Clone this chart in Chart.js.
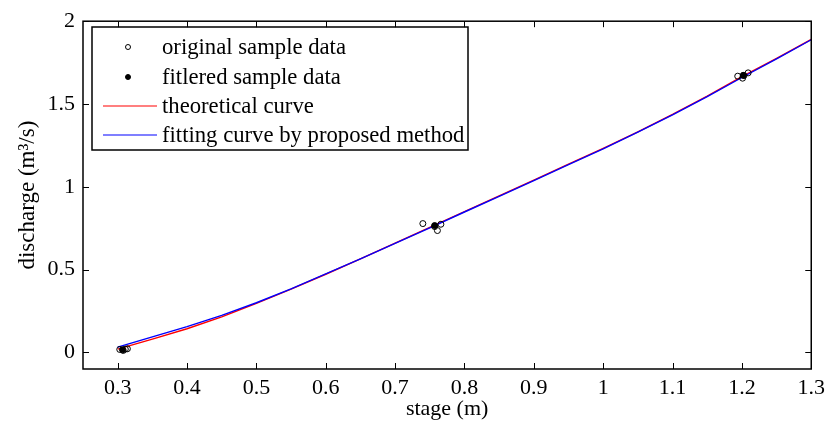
<!DOCTYPE html>
<html>
<head>
<meta charset="utf-8">
<script src="https://cdn.jsdelivr.net/npm/chart.js@4"></script>
<style>
  html, body { margin: 0; padding: 0; background: #fff; }
  canvas { display: block; }
  .warm { position: absolute; left: -1000px; top: 0; font: 22px "Liberation Serif", serif; }
</style>
</head>
<body>
<span class="warm">stage 0.3</span>
<canvas id="rating" width="831" height="428"></canvas>
<script>
// stage (m) -> discharge (m3/s)
const stage = [0.30, 0.35, 0.40, 0.45, 0.50, 0.55, 0.60, 0.65, 0.70, 0.75, 0.80,
               0.85, 0.90, 0.95, 1.00, 1.05, 1.10, 1.15, 1.20, 1.25, 1.30];
const theoretical = [0.020, 0.080, 0.143, 0.215, 0.296, 0.382, 0.472, 0.565, 0.660, 0.755, 0.850,
                     0.945, 1.040, 1.137, 1.232, 1.332, 1.437, 1.548, 1.665, 1.776, 1.890];
const fitted = [0.032, 0.094, 0.156, 0.224, 0.300, 0.384, 0.474, 0.565, 0.658, 0.752, 0.848,
                0.942, 1.038, 1.134, 1.229, 1.330, 1.434, 1.544, 1.660, 1.772, 1.888];

// raw measurements (open circles)
const origX = [0.303, 0.308, 0.314, 0.311, 0.740, 0.761, 0.766, 0.757, 1.194, 1.201, 1.209, 1.203];
const origY = [0.018, 0.012, 0.022, 0.020, 0.778, 0.736, 0.774, 0.760, 1.668, 1.656, 1.688, 1.672];
// filtered (filled dots)
const filtX = [0.307, 0.757, 1.202];
const filtY = [0.016, 0.766, 1.673];

const xTicks = [0.3, 0.4, 0.5, 0.6, 0.7, 0.8, 0.9, 1, 1.1, 1.2, 1.3];
const yTicks = [0, 0.5, 1, 1.5, 2];

const FONT = '"Liberation Serif", serif';

const pts = (xs, ys) => xs.map((x, i) => ({ x, y: ys[i] }));

// рамка вокруг графика + засечки внутрь со всех сторон
const boxPlugin = {
  id: 'matlabBox',
  afterDraw(chart) {
    const { ctx, chartArea: a, scales } = chart;
    const len = 6;
    ctx.save();
    ctx.strokeStyle = '#000';
    ctx.lineWidth = 1.5;
    ctx.strokeRect(a.left, a.top, a.right - a.left, a.bottom - a.top);
    ctx.lineWidth = 1;
    ctx.beginPath();
    xTicks.forEach(v => {
      const x = Math.round(scales.x.getPixelForValue(v)) + 0.5;
      ctx.moveTo(x, a.bottom); ctx.lineTo(x, a.bottom - len);
      ctx.moveTo(x, a.top); ctx.lineTo(x, a.top + len);
    });
    yTicks.forEach(v => {
      const y = Math.round(scales.y.getPixelForValue(v)) + 0.5;
      ctx.moveTo(a.left, y); ctx.lineTo(a.left + len, y);
      ctx.moveTo(a.right, y); ctx.lineTo(a.right - len, y);
    });
    ctx.stroke();
    ctx.restore();
  },
};

// легенда в рамке, в левом верхнем углу
const legendBox = {
  id: 'legendBox',
  afterDatasetsDraw(chart) {
    const { ctx } = chart;
    const bx = 92, by = 27, bw = 376, bh = 123;
    const rows = [47, 77, 106, 135];
    ctx.save();
    ctx.fillStyle = '#fff';
    ctx.fillRect(bx, by, bw, bh);
    ctx.strokeStyle = '#000';
    ctx.lineWidth = 1.5;
    ctx.strokeRect(bx, by, bw, bh);
    ctx.font = '22.7px ' + FONT;
    ctx.textBaseline = 'middle';
    ctx.textAlign = 'left';
    chart.data.datasets.forEach((ds, i) => {
      const y = rows[i];
      if (ds.type === 'scatter') {
        ctx.beginPath();
        ctx.arc(128, y, 2.5, 0, Math.PI * 2);
        ctx.lineWidth = 1;
        ctx.strokeStyle = '#000';
        ctx.fillStyle = ds.pointBackgroundColor;
        ctx.fill();
        ctx.stroke();
      } else {
        ctx.beginPath();
        ctx.moveTo(103, y); ctx.lineTo(157, y);
        ctx.lineWidth = 1.2;
        ctx.strokeStyle = ds.borderColor;
        ctx.stroke();
      }
      ctx.fillStyle = '#000';
      ctx.fillText(ds.label, 162, y + 1);
    });
    ctx.restore();
  },
};

function draw() {
  new Chart(document.getElementById('rating').getContext('2d'), {
    data: {
      datasets: [
        {
          type: 'scatter', label: 'original sample data',
          data: pts(origX, origY),
          pointRadius: 3, pointBorderWidth: 1,
          pointBorderColor: '#000', pointBackgroundColor: 'rgba(0,0,0,0)',
          order: 1,
        },
        {
          type: 'scatter', label: 'fitlered sample data',
          data: pts(filtX, filtY),
          pointRadius: 3, pointBorderWidth: 1,
          pointBorderColor: '#000', pointBackgroundColor: '#000',
          order: 0,
        },
        {
          type: 'line', label: 'theoretical curve',
          data: pts(stage, theoretical),
          borderColor: '#ff0000', borderWidth: 1.4, pointRadius: 0, tension: 0,
          order: 3,
        },
        {
          type: 'line', label: 'fitting curve by proposed method',
          data: pts(stage, fitted),
          borderColor: '#0000ff', borderWidth: 1.4, pointRadius: 0, tension: 0,
          order: 2,
        },
      ],
    },
    options: {
      responsive: false,
      animation: false,
      layout: { padding: { top: 17, right: 15, left: 0, bottom: 0 } },
      plugins: {
        legend: { display: false },
        tooltip: { enabled: false },
      },
      scales: {
        x: {
          type: 'linear', min: 0.25, max: 1.3,
          grid: { display: false, drawTicks: false },
          border: { display: false },
          afterBuildTicks: s => { s.ticks = xTicks.map(v => ({ value: v })); },
          afterFit: s => { s.height = 59; },
          ticks: {
            color: '#000', padding: 6, maxRotation: 0, autoSkip: false,
            font: { family: FONT, size: 22 },
            callback: v => String(v),
          },
          title: {
            display: true, text: 'stage (m)', color: '#000',
            font: { family: FONT, size: 22 },
            padding: { top: 0, bottom: 6 },
          },
        },
        y: {
          type: 'linear', min: -0.1, max: 2,
          grid: { display: false, drawTicks: false },
          border: { display: false },
          afterBuildTicks: s => { s.ticks = yTicks.map(v => ({ value: v })); },
          afterFit: s => { s.width = 83; },
          ticks: {
            color: '#000', padding: 8,
            font: { family: FONT, size: 22 },
            callback: v => String(v),
          },
          title: {
            display: true, text: 'discharge (m³/s)', color: '#000',
            font: { family: FONT, size: 23 },
            padding: { top: 14, bottom: 0 },
          },
        },
      },
    },
    plugins: [boxPlugin, legendBox],
  });
}

if (document.fonts && document.fonts.load) {
  document.fonts.load('22px "Liberation Serif"').then(draw, draw);
} else {
  draw();
}
</script>
</body>
</html>
